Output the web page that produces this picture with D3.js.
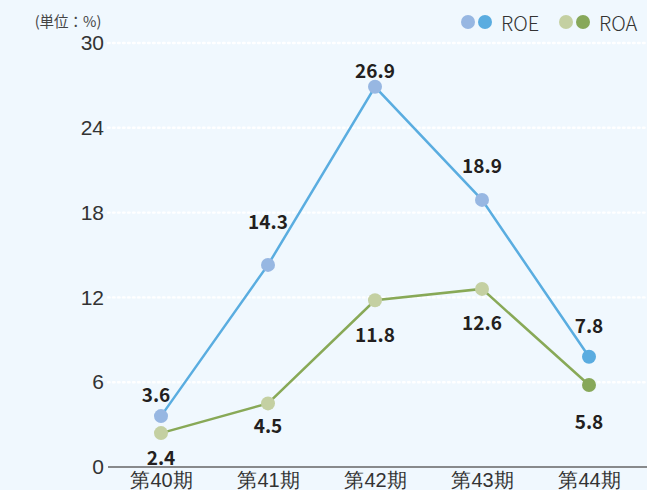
<!DOCTYPE html>
<html>
<head>
<meta charset="utf-8">
<script src="https://cdn.jsdelivr.net/npm/d3@7"></script>
<style>
  body { margin: 0; background: #f0f8fe; }
  svg { display: block; font-family: "Noto Sans CJK JP", "Noto Sans", sans-serif; }
</style>
</head>
<body>
<script>
const periods = ["第40期", "第41期", "第42期", "第43期", "第44期"];
const roe = [3.6, 14.3, 26.9, 18.9, 7.8];
const roa = [2.4, 4.5, 11.8, 12.6, 5.8];
const yTicks = [0, 6, 12, 18, 24, 30];

// label offsets from point (px), tuned by eye
const roeLabelDx = [-5, 0, 0, 0, 0];
const roeLabelDy = [-23, -44, -17, -35, -32];
const roaLabelDy = [23, 21, 33, 33, 35];

const width = 647, height = 490;

const svg = d3.select("body").append("svg")
  .attr("width", width)
  .attr("height", height);

svg.append("rect")
  .attr("width", width)
  .attr("height", height)
  .style("fill", "#f0f8fe");

const x = d3.scalePoint().domain(periods).range([161, 589]);
const y = d3.scaleLinear().domain([0, 30]).range([467, 43]);

// dotted grid
svg.append("g")
  .selectAll("line")
  .data(yTicks.filter(d => d > 0))
  .enter().append("line")
  .attr("x1", 108)
  .attr("x2", width)
  .attr("y1", d => y(d))
  .attr("y2", d => y(d))
  .style("stroke", "#ffffff")
  .style("stroke-width", 2.4)
  .style("stroke-dasharray", "1.6,3.4")
  .style("stroke-linecap", "round");

// y axis labels
const yAxis = svg.append("g")
  .attr("transform", "translate(104,0)")
  .call(d3.axisLeft(y).tickValues(yTicks).tickSize(0).tickPadding(0));
yAxis.select(".domain").remove();
yAxis.selectAll("text")
  .style("font-size", "21px")
  .style("font-weight", 300)
  .style("fill", "#333");

// x axis
const xAxis = svg.append("g")
  .attr("transform", "translate(0," + y(0) + ")")
  .call(d3.axisBottom(x).tickSize(0).tickPadding(5));
xAxis.select(".domain").remove();
xAxis.selectAll("text")
  .attr("dy", "0.75em")
  .style("font-size", "20px")
  .style("font-weight", 300)
  .style("fill", "#333");

svg.append("line")
  .attr("x1", 108).attr("x2", width)
  .attr("y1", y(0)).attr("y2", y(0))
  .style("stroke", "#666")
  .style("stroke-width", 1.5);

svg.append("text")
  .text("(単位：%)")
  .attr("x", 68)
  .attr("y", 20)
  .attr("text-anchor", "middle")
  .attr("dominant-baseline", "central")
  .style("font-size", "14.5px")
  .style("fill", "#444");

const series = [
  { name: "ROE", values: roe, line: "#5aade0", light: "#97b7e2", dark: "#5aace0" },
  { name: "ROA", values: roa, line: "#88a957", light: "#c4d0a2", dark: "#87a85a" }
];

const line = d3.line()
  .x((d, i) => x(periods[i]))
  .y(d => y(d));

series.forEach(s => {
  svg.append("path")
    .datum(s.values)
    .attr("d", line)
    .style("fill", "none")
    .style("stroke", s.line)
    .style("stroke-width", 2.5);
});

series.forEach(s => {
  svg.append("g")
    .selectAll("circle")
    .data(s.values)
    .enter().append("circle")
    .attr("cx", (d, i) => x(periods[i]))
    .attr("cy", d => y(d))
    .attr("r", 7)
    .style("fill", (d, i) => i === s.values.length - 1 ? s.dark : s.light);
});

// value labels
svg.append("g")
  .selectAll("text")
  .data(roe)
  .enter().append("text")
  .text(d => d.toFixed(1))
  .attr("x", (d, i) => x(periods[i]) + roeLabelDx[i])
  .attr("y", (d, i) => y(d) + roeLabelDy[i])
  .attr("text-anchor", "middle")
  .attr("dominant-baseline", "central")
  .style("font-size", "19px")
  .style("font-weight", 700)
  .style("fill", "#231f20");

svg.append("g")
  .selectAll("text")
  .data(roa)
  .enter().append("text")
  .text(d => d.toFixed(1))
  .attr("x", (d, i) => x(periods[i]))
  .attr("y", (d, i) => y(d) + roaLabelDy[i])
  .attr("text-anchor", "middle")
  .attr("dominant-baseline", "central")
  .style("font-size", "19px")
  .style("font-weight", 700)
  .style("fill", "#231f20");

// legend
const legend = svg.append("g");
const legendX = [468, 566];
series.forEach((s, k) => {
  const g = legend.append("g").attr("transform", "translate(" + legendX[k] + ",22)");
  g.append("circle").attr("cx", 0).attr("r", 7).style("fill", s.light);
  g.append("circle").attr("cx", 17).attr("r", 7).style("fill", s.dark);
  g.append("text")
    .text(s.name)
    .attr("x", 33)
    .attr("dominant-baseline", "central")
    .style("font-size", "20px")
    .style("font-weight", 300)
    .style("fill", "#333");
});
</script>
</body>
</html>
